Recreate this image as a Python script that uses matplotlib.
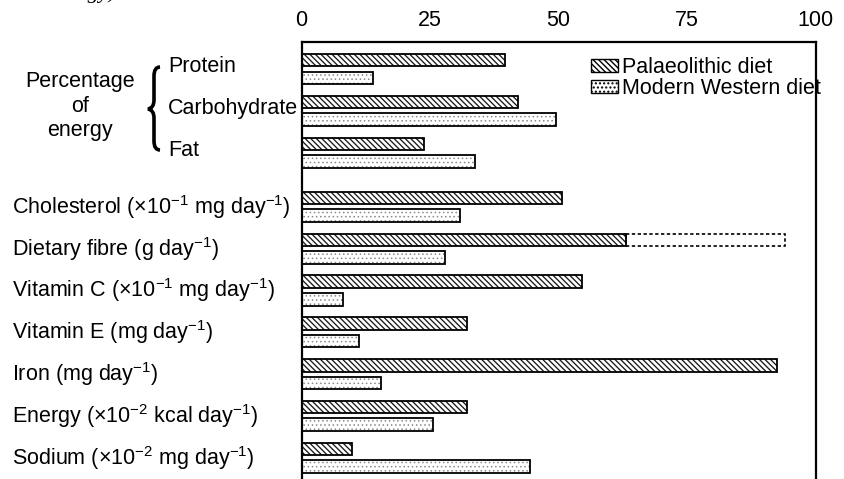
import matplotlib
matplotlib.use('Agg')
import matplotlib.pyplot as plt
import matplotlib.transforms as mtransforms
from matplotlib.patches import Patch, PathPatch
from matplotlib.path import Path
import numpy as np

plt.rcParams['font.family'] = ['Liberation Sans', 'DejaVu Sans']
plt.rcParams['mathtext.fontset'] = 'custom'
plt.rcParams['mathtext.rm'] = 'Liberation Sans'
plt.rcParams['mathtext.it'] = 'Liberation Sans:italic'
plt.rcParams['mathtext.bf'] = 'Liberation Sans:bold'

# ---- data ----
energy_nutrients = ['Protein', 'Carbohydrate', 'Fat']
other_nutrients = [
    'Cholesterol (×10$^{-1}$ mg day$^{-1}$)',
    'Dietary fibre (g day$^{-1}$)',
    'Vitamin C (×10$^{-1}$ mg day$^{-1}$)',
    'Vitamin E (mg day$^{-1}$)',
    'Iron (mg day$^{-1}$)',
    'Energy (×10$^{-2}$ kcal day$^{-1}$)',
    'Sodium (×10$^{-2}$ mg day$^{-1}$)',
]
palaeolithic = [39.5, 42.2, 23.9, 50.6, 63.2, 54.6, 32.2, 92.6, 32.2, 9.9]
modern_western = [14.0, 49.6, 33.8, 30.8, 28.0, 8.0, 11.1, 15.4, 25.5, 44.4]
fibre_upper = 94.0
xticks = [0, 25, 50, 75, 100]
series_labels = ['Palaeolithic diet', 'Modern Western diet']
group_label = 'Percentage\nof\nenergy'

# ---- layout ----
W, H = 844, 479
fig = plt.figure(figsize=(W / 100, H / 100), dpi=100)
ax = fig.add_axes([301.5 / W, 1 - 520 / H, (815.5 - 301.5) / W, (520 - 42) / H])

n_e = len(energy_nutrients)
ypos = np.array(list(range(n_e)) + [n_e + 0.3 + i for i in range(len(other_nutrients))])
off, h = 0.21, 0.30
FS = 15.5

pal_hatch = '\\' * 6
mod_hatch = '....'

with plt.rc_context({'hatch.linewidth': 0.95}):
    ax.barh(ypos - off, palaeolithic, height=h, color='white', edgecolor='#1a1a1a',
            hatch=pal_hatch, linewidth=0)
ax.barh(ypos - off, palaeolithic, height=h, fill=False, edgecolor='black', linewidth=1.3)

with plt.rc_context({'hatch.linewidth': 0.6}):
    ax.barh(ypos + off, modern_western, height=h, color='white', edgecolor='#8a8a8a',
            hatch=mod_hatch, linewidth=0)
ax.barh(ypos + off, modern_western, height=h, fill=False, edgecolor='black', linewidth=1.3)

# dashed range for dietary fibre
fi = n_e + 1
ax.barh(ypos[fi] - off, fibre_upper - palaeolithic[fi], left=palaeolithic[fi], height=h,
        fill=False, edgecolor='black', linewidth=1.2, linestyle=(0, (2, 1.5)))

ax.set_xlim(0, 100)
ax.set_ylim(ypos[-1] + 1.49, -0.646)
ax.xaxis.tick_top()
ax.set_xticks(xticks)
ax.set_xticklabels([str(t) for t in xticks])
ax.tick_params(axis='x', length=0, pad=8, labelsize=FS)
ax.set_yticks([])
for s in ax.spines.values():
    s.set_linewidth(1.6)

blend = mtransforms.blended_transform_factory(fig.transFigure, ax.transData)
for i, lab in enumerate(energy_nutrients):
    ax.text(168 / W, ypos[i] - 0.06, lab, transform=blend, ha='left', va='center', fontsize=FS)
for j, lab in enumerate(other_nutrients):
    ax.text(12 / W, ypos[n_e + j], lab, transform=blend, ha='left', va='center', fontsize=FS)

fig.text(80 / W, 1 - 106 / H, group_label, ha='center', va='center', fontsize=FS,
         multialignment='center', linespacing=1.2)

# brace
pts = [(160, 67), (154, 67), (154, 76), (154, 100), (154, 108), (148, 109),
       (154, 110), (154, 118), (154, 141), (154, 150), (160, 150)]
codes = [Path.MOVETO, Path.CURVE3, Path.CURVE3, Path.LINETO, Path.CURVE3, Path.CURVE3,
         Path.CURVE3, Path.CURVE3, Path.LINETO, Path.CURVE3, Path.CURVE3]
verts = [(x / W, 1 - y / H) for x, y in pts]
fig.add_artist(PathPatch(Path(verts, codes), transform=fig.transFigure, fill=False,
                         edgecolor='black', linewidth=2.6, capstyle='butt'))

# legend
handles = [Patch(facecolor='white', edgecolor='black', hatch=pal_hatch, linewidth=1.0),
           Patch(facecolor='white', edgecolor='#555555', hatch=mod_hatch, linewidth=1.0)]
leg = ax.legend(handles, series_labels, loc='upper left',
                bbox_to_anchor=(591 / W, 1 - 57 / H), bbox_transform=fig.transFigure,
                frameon=False, fontsize=FS, handlelength=1.25, handleheight=0.55,
                handletextpad=0.2, labelspacing=0.0, borderpad=0, borderaxespad=0)
for p in leg.get_patches():
    p.set_edgecolor('black')

# clipped caption fragment at the very top
fig.text(116 / W, 1 + 2 / H, 'energy)', ha='right', va='baseline', fontsize=16,
         family='Liberation Serif', style='italic')

fig.savefig('out.png', dpi=100)
